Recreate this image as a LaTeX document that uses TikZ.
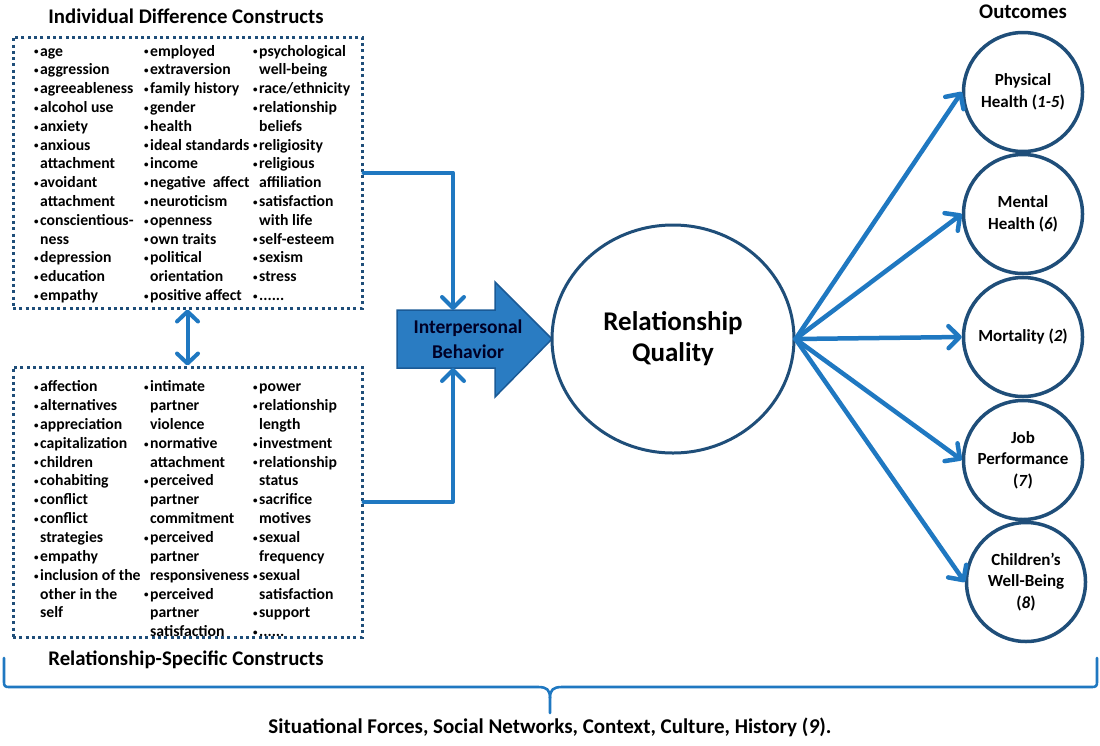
\documentclass[tikz,border=0pt]{standalone}
\usepackage{fontspec}
\setmainfont{Carlito}
\usetikzlibrary{arrows.meta,shapes.geometric}
\definecolor{arrowblue}{HTML}{1F78C1}
\definecolor{darkblue}{HTML}{1F4E79}
\definecolor{ibfill}{HTML}{2A7CC2}
\definecolor{ibdraw}{HTML}{1A5A96}
\newcommand\bu{\makebox[7pt][l]{\hspace*{1pt}\raisebox{1.2pt}{\fontsize{9}{9}\selectfont•}}}
\newcommand\cn{\hspace*{7pt}}
\newcommand\sixdots{.\kern0pt.\kern0pt.\kern0pt.\kern0pt.\kern0pt.}
\begin{document}
\begin{tikzpicture}[x=1pt,y=-1pt,
  listitem/.style={anchor=base west, inner sep=0pt, font=\fontsize{15.7}{18}\selectfont\bfseries},
  titletext/.style={inner sep=0pt, font=\fontsize{20.8}{24}\selectfont\bfseries},
  dbox/.style={draw=darkblue, line width=3pt, dash pattern=on 3pt off 3.3pt, inner sep=0pt},
  conn/.style={draw=arrowblue, line width=4pt, line cap=round, line join=round,
    -{Straight Barb[round, length=11pt, width=22pt]}},
  conn2/.style={draw=arrowblue, line width=4pt, line cap=round, line join=round,
    {Straight Barb[round, length=10pt, width=21pt]}-{Straight Barb[round, length=10pt, width=21pt]}},
  outc/.style={circle, draw=darkblue, line width=3.5pt, minimum size=119pt, inner sep=0pt,
    align=center, font=\fontsize{17}{21.5}\selectfont\bfseries},
  bracestyle/.style={draw=arrowblue, line width=2.6pt, line cap=round, line join=round}
]
\useasboundingbox (0,0) rectangle (1100,745);

% titles
\node[titletext] (t1) at (186,16) {Individual Difference Constructs};
\node[titletext] (t2) at (186,660) {Relationship-Specific Constructs};
\node[titletext] (t3) at (1023,12) {Outcomes};

% dotted boxes
\node[dbox, minimum width=349pt, minimum height=271pt] (box1) at (187.5,172.5) {};
\node[dbox, minimum width=349pt, minimum height=270pt] (box2) at (187.5,502) {};

% top box lists
\foreach \txt [count=\i] in {\bu age,\bu aggression,\bu agreeableness,\bu alcohol use,\bu anxiety,\bu anxious,\cn attachment,\bu avoidant,\cn attachment,\bu conscientious-,\cn ness,\bu depression,\bu education,\bu empathy}
  \node[listitem] (a\i) at (33,{56+18.8*(\i-1)}) {\txt};
\foreach \txt [count=\i] in {\bu employed,\bu extraversion,\bu family history,\bu gender,\bu health,\bu ideal standards,\bu income,\bu negative\ \ affect,\bu neuroticism,\bu openness,\bu own traits,\bu political,\cn orientation,\bu positive affect}
  \node[listitem] (b\i) at (143,{56+18.8*(\i-1)}) {\txt};
\foreach \txt [count=\i] in {\bu psychological,\cn well-being,\bu race/ethnicity,\bu relationship,\cn beliefs,\bu religiosity,\bu religious,\cn affiliation,\bu satisfaction,\cn with life,\bu self-esteem,\bu sexism,\bu stress,{\bu\sixdots}}
  \node[listitem] (c\i) at (252,{56+18.8*(\i-1)}) {\txt};

% bottom box lists
\foreach \txt [count=\i] in {\bu affection,\bu alternatives,\bu appreciation,\bu capitalization,\bu children,\bu cohabiting,\bu conflict,\bu conflict,\cn strategies,\bu empathy,\bu inclusion of the,\cn other in the,\cn self}
  \node[listitem] (d\i) at (33,{391.7+18.85*(\i-1)}) {\txt};
\foreach \txt [count=\i] in {\bu intimate,\cn partner,\cn violence,\bu normative,\cn attachment,\bu perceived,\cn partner,\cn commitment,\bu perceived,\cn partner,\cn responsiveness,\bu perceived,\cn partner,\cn satisfaction}
  \node[listitem] (e\i) at (143,{391.7+18.85*(\i-1)}) {\txt};
\foreach \txt [count=\i] in {\bu power,\bu relationship,\cn length,\bu investment,\bu relationship,\cn status,\bu sacrifice,\cn motives,\bu sexual,\cn frequency,\bu sexual,\cn satisfaction,\bu support,{\bu\sixdots}}
  \node[listitem] (f\i) at (252,{391.7+18.85*(\i-1)}) {\txt};

% interpersonal behavior arrow
\draw[fill=ibfill, draw=ibdraw, line width=1.5pt, line join=miter]
  (397,310) -- (495,310) -- (495,282) -- (552,339) -- (495,397) -- (495,368) -- (397,368) -- cycle;
\node[inner sep=0pt, align=center, text=black!85!blue, font=\fontsize{19.5}{25}\selectfont\bfseries] (ib) at (468,339) {Interpersonal\\Behavior};
\coordinate (ibtop) at (453,310);
\coordinate (ibbot) at (453,368);

% connectors from boxes
\draw[conn] (box1.east) -| (ibtop);
\draw[conn] (box2.east) -| (ibbot);
\draw[conn2] (box1.south) -- (box2.north);

% relationship quality
\node[ellipse, draw=darkblue, line width=3pt, minimum width=242pt, minimum height=228pt, inner sep=0pt,
  align=center, font=\fontsize{27}{31}\selectfont\bfseries] (rq) at (673,339) {Relationship\\Quality};

% outcomes
\node[outc] (o1) at (1023,92) {Physical\\Health (\textit{1-5})};
\node[outc] (o2) at (1023,214) {Mental\\Health (\textit{6})};
\node[outc] (o3) at (1023,337) {Mortality (\textit{2})};
\node[outc] (o4) at (1023,460) {Job\\Performance\\(\textit{7})};
\node[outc] (o5) at (1026,582) {Children’s\\Well-Being\\(\textit{8})};

\foreach \k in {1,...,5}
  \draw[conn, line width=4.5pt] (rq.east) -- (o\k.west);

% brace
\coordinate (bl) at (4,658);
\coordinate (br) at (1097,658);
\coordinate (bc) at (550,713);
\draw[bracestyle] (bl) -- (4,682) .. controls (4,686) and (5,687) .. (9,687) -- (538,687)
  .. controls (547,687) and (550,690) .. (550,698) -- (bc);
\draw[bracestyle] (br) -- (1097,682) .. controls (1097,686) and (1096,687) .. (1092,687) -- (562,687)
  .. controls (553,687) and (550,690) .. (550,698);
\node[inner sep=0pt, font=\fontsize{21}{24}\selectfont\bfseries] (sf) at (550,727)
  {Situational Forces, Social Networks, Context, Culture, History (\textit{9}).};
\end{tikzpicture}
\end{document}
